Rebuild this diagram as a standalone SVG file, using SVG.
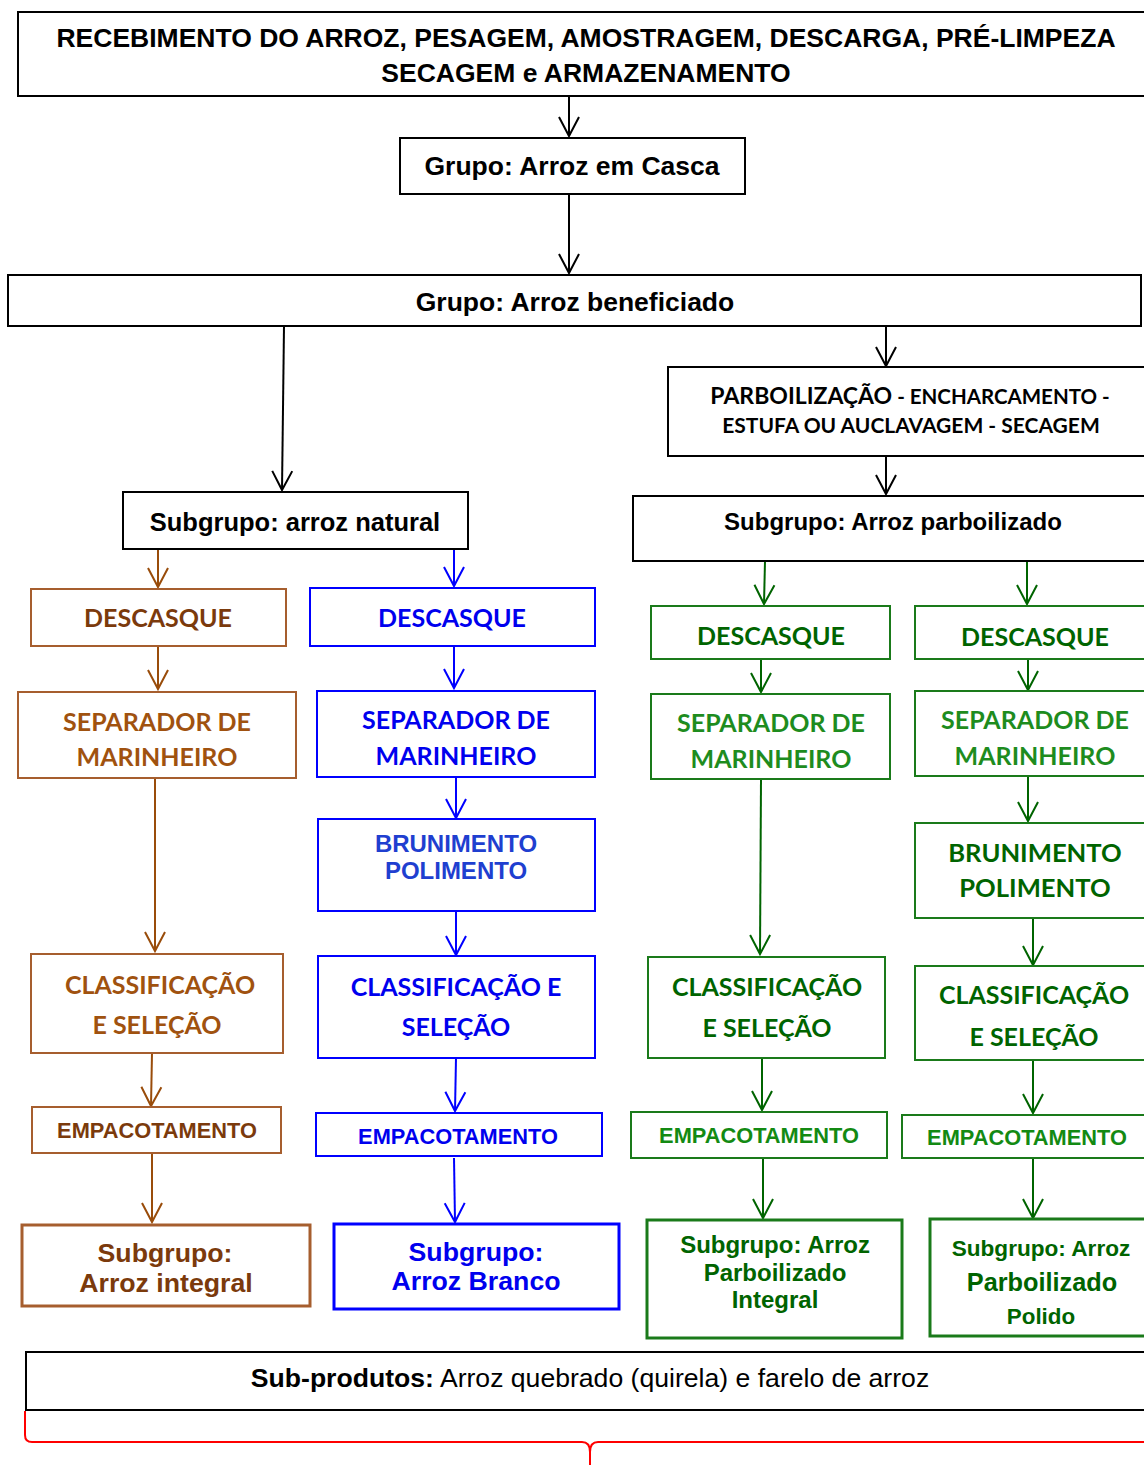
<svg xmlns="http://www.w3.org/2000/svg" width="1144" height="1465" viewBox="0 0 1144 1465">
<style>
.bx{fill:#fff;stroke-width:2}
.k{stroke:#000}
.br{stroke:#A65E2E}
.bl{stroke:#0000FF}
.gr{stroke:#1A7A1A}
.th{stroke-width:3}
.ar{font-family:"Liberation Sans",Arial,sans-serif;font-weight:bold;text-anchor:middle}
.ca{font-family:Lato,"Liberation Sans",sans-serif;font-weight:bold;text-anchor:middle}
.c{fill:none;stroke-width:2}
</style>
<defs>
<marker id="mk" viewBox="-2 -12 24 24" refX="19" refY="0" markerWidth="24" markerHeight="24" markerUnits="userSpaceOnUse" orient="auto"><path d="M0,-10 L19,0 L0,10" fill="none" stroke="#000" stroke-width="2"/></marker>
<marker id="mbr" viewBox="-2 -12 24 24" refX="19" refY="0" markerWidth="24" markerHeight="24" markerUnits="userSpaceOnUse" orient="auto"><path d="M0,-10 L19,0 L0,10" fill="none" stroke="#994C0A" stroke-width="2"/></marker>
<marker id="mbl" viewBox="-2 -12 24 24" refX="19" refY="0" markerWidth="24" markerHeight="24" markerUnits="userSpaceOnUse" orient="auto"><path d="M0,-10 L19,0 L0,10" fill="none" stroke="#0000FF" stroke-width="2"/></marker>
<marker id="mgr" viewBox="-2 -12 24 24" refX="19" refY="0" markerWidth="24" markerHeight="24" markerUnits="userSpaceOnUse" orient="auto"><path d="M0,-10 L19,0 L0,10" fill="none" stroke="#006400" stroke-width="2"/></marker>
</defs>
<rect width="1144" height="1465" fill="#fff"/>

<g id="connectors">
<g stroke="#000" class="c" marker-end="url(#mk)">
<line x1="569" y1="96" x2="569" y2="136"/>
<line x1="569" y1="194" x2="569" y2="273"/>
<line x1="284" y1="326" x2="282" y2="490"/>
<line x1="886" y1="326" x2="886" y2="366"/>
<line x1="886" y1="456" x2="886" y2="494"/>
</g>
<g stroke="#994C0A" class="c" marker-end="url(#mbr)">
<line x1="158" y1="549" x2="158" y2="587"/>
<line x1="158" y1="646" x2="158" y2="689"/>
<line x1="155" y1="778" x2="155" y2="951"/>
<line x1="152" y1="1053" x2="151" y2="1106"/>
<line x1="152" y1="1153" x2="152" y2="1222"/>
</g>
<g stroke="#0000FF" class="c" marker-end="url(#mbl)">
<line x1="454" y1="549" x2="454" y2="586"/>
<line x1="454" y1="646" x2="454" y2="688"/>
<line x1="456" y1="777" x2="456" y2="818"/>
<line x1="456" y1="911" x2="456" y2="955"/>
<line x1="456" y1="1058" x2="455" y2="1111"/>
<line x1="454" y1="1158" x2="455" y2="1222"/>
</g>
<g stroke="#006400" class="c" marker-end="url(#mgr)">
<line x1="765" y1="561" x2="764" y2="604"/>
<line x1="761" y1="659" x2="761" y2="692"/>
<line x1="761" y1="779" x2="760" y2="954"/>
<line x1="762" y1="1058" x2="762" y2="1110"/>
<line x1="763" y1="1158" x2="763" y2="1218"/>
<line x1="1027" y1="561" x2="1027" y2="604"/>
<line x1="1028" y1="659" x2="1028" y2="690"/>
<line x1="1028" y1="776" x2="1028" y2="821"/>
<line x1="1033" y1="918" x2="1033" y2="965"/>
<line x1="1033" y1="1060" x2="1033" y2="1113"/>
<line x1="1033" y1="1158" x2="1033" y2="1218"/>
</g>
</g>

<g id="n-recebimento"><rect class="bx k" x="18" y="12" width="1140" height="84"/>
<text class="ar" x="586" y="47" font-size="26.5">RECEBIMENTO DO ARROZ, PESAGEM, AMOSTRAGEM, DESCARGA, PRÉ-LIMPEZA</text>
<text class="ar" x="586" y="82" font-size="26.5">SECAGEM e ARMAZENAMENTO</text></g>

<g id="n-casca"><rect class="bx k" x="400" y="138" width="345" height="56"/>
<text class="ar" x="572" y="175" font-size="26.5">Grupo: Arroz em Casca</text></g>

<g id="n-beneficiado"><rect class="bx k" x="8" y="275" width="1133" height="51"/>
<text class="ar" x="575" y="311" font-size="26.5">Grupo: Arroz beneficiado</text></g>

<g id="n-parboilizacao"><rect class="bx k" x="668" y="367" width="490" height="89"/>
<text class="ca" x="910" y="404" font-size="20.5"><tspan font-size="23">PARBOILIZAÇÃO</tspan> - ENCHARCAMENTO -</text>
<text class="ca" x="911" y="433" font-size="21">ESTUFA OU AUCLAVAGEM - SECAGEM</text></g>

<g id="n-natural"><rect class="bx k" x="123" y="492" width="345" height="57"/>
<text class="ar" x="295" y="531" font-size="25.5">Subgrupo: arroz natural</text></g>

<g id="n-parb"><rect class="bx k" x="633" y="496" width="525" height="65"/>
<text class="ar" x="893" y="530" font-size="24">Subgrupo: Arroz parboilizado</text></g>

<!-- brown column -->
<g id="n-br-descasque"><rect class="bx br" x="31" y="589" width="255" height="57"/>
<text class="ca" x="158" y="627" font-size="25" fill="#7B3A0C">DESCASQUE</text></g>
<g id="n-br-separador"><rect class="bx br" x="18" y="692" width="278" height="86"/>
<text class="ca" x="157" y="731" font-size="25" fill="#A0520F">SEPARADOR DE</text>
<text class="ca" x="157" y="766" font-size="25" fill="#A0520F">MARINHEIRO</text></g>
<g id="n-br-classif"><rect class="bx br" x="31" y="954" width="252" height="99"/>
<text class="ca" x="160" y="994" font-size="25" fill="#A0520F">CLASSIFICAÇÃO</text>
<text class="ca" x="157" y="1034" font-size="25" fill="#A0520F">E SELEÇÃO</text></g>
<g id="n-br-empac"><rect class="bx br" x="32" y="1107" width="249" height="46"/>
<text class="ar" x="157" y="1138" font-size="21.8" fill="#7B3A0C">EMPACOTAMENTO</text></g>
<g id="n-br-integral"><rect class="bx br th" x="22" y="1225" width="288" height="81"/>
<text class="ar" x="165" y="1262" font-size="26.7" fill="#7B3A0C">Subgrupo:</text>
<text class="ar" x="166" y="1292" font-size="26.7" fill="#7B3A0C">Arroz integral</text></g>

<!-- blue column -->
<g id="n-bl-descasque"><rect class="bx bl" x="310" y="588" width="285" height="58"/>
<text class="ca" x="452" y="627" font-size="25" fill="#0000EE">DESCASQUE</text></g>
<g id="n-bl-separador"><rect class="bx bl" x="317" y="691" width="278" height="86"/>
<text class="ca" x="456" y="729" font-size="25" fill="#0000EE">SEPARADOR DE</text>
<text class="ca" x="456" y="765" font-size="25" fill="#0000EE">MARINHEIRO</text></g>
<g id="n-bl-brunimento"><rect class="bx bl" x="318" y="819" width="277" height="92"/>
<text class="ar" x="456" y="852" font-size="24" fill="#1F3FD0">BRUNIMENTO</text>
<text class="ar" x="456" y="879" font-size="24" fill="#1F3FD0">POLIMENTO</text></g>
<g id="n-bl-classif"><rect class="bx bl" x="318" y="956" width="277" height="102"/>
<text class="ca" x="456" y="996" font-size="25" fill="#0000EE">CLASSIFICAÇÃO E</text>
<text class="ca" x="456" y="1036" font-size="25" fill="#0000EE">SELEÇÃO</text></g>
<g id="n-bl-empac"><rect class="bx bl" x="316" y="1113" width="286" height="43"/>
<text class="ar" x="458" y="1144" font-size="21.8" fill="#0000EE">EMPACOTAMENTO</text></g>
<g id="n-bl-branco"><rect class="bx bl th" x="334" y="1224" width="285" height="85"/>
<text class="ar" x="476" y="1261" font-size="26.7" fill="#0000EE">Subgrupo:</text>
<text class="ar" x="476" y="1290" font-size="26.7" fill="#0000EE">Arroz Branco</text></g>

<!-- green column 1 -->
<g id="n-g1-descasque"><rect class="bx gr" x="651" y="606" width="239" height="53"/>
<text class="ca" x="771" y="645" font-size="25" fill="#006400">DESCASQUE</text></g>
<g id="n-g1-separador"><rect class="bx gr" x="651" y="694" width="239" height="85"/>
<text class="ca" x="771" y="732" font-size="25" fill="#1E8C1E">SEPARADOR DE</text>
<text class="ca" x="771" y="768" font-size="25" fill="#1E8C1E">MARINHEIRO</text></g>
<g id="n-g1-classif"><rect class="bx gr" x="648" y="957" width="237" height="101"/>
<text class="ca" x="767" y="996" font-size="25" fill="#006400">CLASSIFICAÇÃO</text>
<text class="ca" x="767" y="1037" font-size="25" fill="#006400">E SELEÇÃO</text></g>
<g id="n-g1-empac"><rect class="bx gr" x="631" y="1112" width="256" height="46"/>
<text class="ar" x="759" y="1143" font-size="21.8" fill="#138A13">EMPACOTAMENTO</text></g>
<g id="n-g1-integral"><rect class="bx gr th" x="647" y="1220" width="255" height="118"/>
<text class="ar" x="775" y="1253" font-size="24" fill="#006400">Subgrupo: Arroz</text>
<text class="ar" x="775" y="1281" font-size="24" fill="#006400">Parboilizado</text>
<text class="ar" x="775" y="1308" font-size="24" fill="#006400">Integral</text></g>

<!-- green column 2 -->
<g id="n-g2-descasque"><rect class="bx gr" x="915" y="606" width="243" height="53"/>
<text class="ca" x="1035" y="646" font-size="25" fill="#006400">DESCASQUE</text></g>
<g id="n-g2-separador"><rect class="bx gr" x="915" y="691" width="243" height="85"/>
<text class="ca" x="1035" y="729" font-size="25" fill="#1E8C1E">SEPARADOR DE</text>
<text class="ca" x="1035" y="765" font-size="25" fill="#1E8C1E">MARINHEIRO</text></g>
<g id="n-g2-brunimento"><rect class="bx gr" x="915" y="823" width="243" height="95"/>
<text class="ca" x="1035" y="862" font-size="25.6" fill="#006400">BRUNIMENTO</text>
<text class="ca" x="1035" y="897" font-size="25.6" fill="#006400">POLIMENTO</text></g>
<g id="n-g2-classif"><rect class="bx gr" x="915" y="966" width="243" height="94"/>
<text class="ca" x="1034" y="1004" font-size="25" fill="#006400">CLASSIFICAÇÃO</text>
<text class="ca" x="1034" y="1046" font-size="25" fill="#006400">E SELEÇÃO</text></g>
<g id="n-g2-empac"><rect class="bx gr" x="902" y="1115" width="256" height="43"/>
<text class="ar" x="1027" y="1145" font-size="21.8" fill="#138A13">EMPACOTAMENTO</text></g>
<g id="n-g2-polido"><rect class="bx gr th" x="930" y="1219" width="228" height="117"/>
<text class="ar" x="1041" y="1256" font-size="22.6" fill="#006400">Subgrupo: Arroz</text>
<text class="ar" x="1042" y="1291" font-size="25.3" fill="#006400">Parboilizado</text>
<text class="ar" x="1041" y="1324" font-size="22.4" fill="#006400">Polido</text></g>

<g id="n-subprodutos"><rect class="bx k" x="26" y="1352" width="1132" height="58"/>
<text x="590" y="1387" font-size="26.6" font-family="Liberation Sans, Arial, sans-serif" text-anchor="middle"><tspan font-weight="bold">Sub-produtos:</tspan> Arroz quebrado (quirela) e farelo de arroz</text></g>

<g id="brace"><path d="M25,1411 L25,1435 Q25,1442 32,1442 L582,1442 Q590,1442 590,1452 L590,1465 M590,1452 Q590,1442 598,1442 L1144,1442" fill="none" stroke="#FF0000" stroke-width="2"/></g>
</svg>
